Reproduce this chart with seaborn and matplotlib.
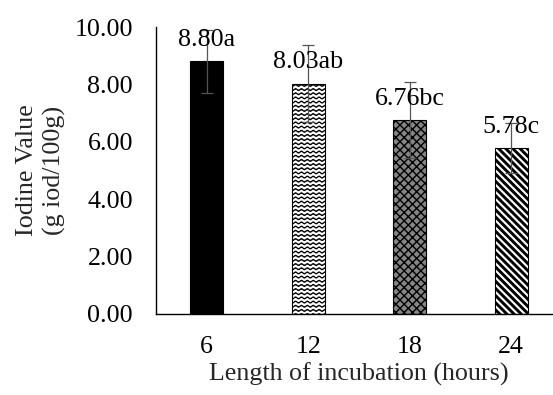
import warnings

import numpy as np
import pandas as pd
import matplotlib
matplotlib.use("Agg")
import matplotlib.pyplot as plt
import matplotlib.hatch as mhatch
from matplotlib.path import Path
import seaborn as sns

# Iodine value of the oil after each incubation period
hours = ["6", "12", "18", "24"]
iodine_value = [8.80, 8.03, 6.76, 5.78]
iodine_err = [1.09, 1.35, 1.33, 0.88]
letters = ["a", "ab", "bc", "c"]
y_ticks = [0, 2, 4, 6, 8, 10]

FS = 18.7


class WaveHatch(mhatch.HatchPatternBase):
    """Rows of small waves, drawn for the '~' hatch character."""

    def __init__(self, hatch, density):
        self.num_rows = hatch.count("~") * 24
        self.num_waves = 17
        self.pts = self.num_waves * 8 + 1
        self.num_vertices = self.num_rows * self.pts

    def set_vertices_and_codes(self, vertices, codes):
        t = np.linspace(0.0, 1.0, self.pts)
        for i in range(self.num_rows):
            y0 = (i + 0.5) / self.num_rows
            seg = slice(i * self.pts, (i + 1) * self.pts)
            vertices[seg, 0] = t
            vertices[seg, 1] = y0 + 0.009 * np.sin(2 * np.pi * self.num_waves * t)
            codes[seg] = Path.LINETO
            codes[i * self.pts] = Path.MOVETO


class DenseBackslashHatch(mhatch.HatchPatternBase):
    """Down-sloping stripes, 14 per inch, for the 'z' hatch character."""

    def __init__(self, hatch, density):
        self.num_lines = hatch.count("z") * 14
        self.num_vertices = (self.num_lines * 2 + 2) * 2 if self.num_lines else 0

    def set_vertices_and_codes(self, vertices, codes):
        n = self.num_lines * 2 + 2
        steps = np.arange(n) / self.num_lines - 1.0
        vertices[0::2, 0] = steps
        vertices[0::2, 1] = 1.0
        vertices[1::2, 0] = steps + 1.0
        vertices[1::2, 1] = 0.0
        codes[0::2] = Path.MOVETO
        codes[1::2] = Path.LINETO


mhatch._hatch_types.append(WaveHatch)
mhatch._hatch_types.append(DenseBackslashHatch)

sns.set_style("white")
plt.rcParams["font.family"] = ["Liberation Serif", "DejaVu Serif"]
plt.rcParams["font.size"] = FS

df = pd.DataFrame({"hours": hours, "iv": iodine_value})

fig = plt.figure(figsize=(5.53, 3.95), dpi=100)
ax = fig.add_axes([156 / 553, 81 / 395, 406 / 553, 287 / 395])

sns.barplot(data=df, x="hours", y="iv", order=hours, color="black",
            width=0.33, errorbar=None, saturation=1, ax=ax)

styles = [
    dict(face="black", hatch=None, hlw=1.0),
    dict(face="white", hatch="~", hlw=0.9),
    dict(face="#858585", hatch="xxxx", hlw=1.0),
    dict(face="white", hatch="z", hlw=2.1),
]
bars = list(ax.patches)
with warnings.catch_warnings():
    warnings.simplefilter("ignore")
    for bar, st in zip(bars, styles):
        bar.set_facecolor(st["face"])
        bar.set_edgecolor("black")
        bar.set_linewidth(0.8)
        bar.set_hatch(st["hatch"])
        if hasattr(bar, "set_hatch_linewidth"):
            bar.set_hatch_linewidth(st["hlw"])

centers = [b.get_x() + b.get_width() / 2 for b in bars]
ax.errorbar(centers, iodine_value, yerr=iodine_err, fmt="none",
            ecolor="#555555", elinewidth=0.9, capsize=4, capthick=0.9, zorder=4)

for x, v, lt in zip(centers, iodine_value, letters):
    ax.annotate(f"{v:.2f}{lt}", xy=(x, v), xytext=(0, 11.0),
                textcoords="offset points", ha="center", va="baseline",
                fontsize=FS, color="black", zorder=5)

ax.set_xlim(-0.5, 3.5)
ax.set_ylim(0, 10)
ax.set_yticks(y_ticks)
ax.set_yticklabels([f"{t:.2f}" for t in y_ticks])
ax.tick_params(axis="both", length=0, labelsize=FS, colors="black")
ax.tick_params(axis="y", pad=16.5)
ax.tick_params(axis="x", pad=16)

for side in ["top", "right"]:
    ax.spines[side].set_visible(False)
for side in ["left", "bottom"]:
    ax.spines[side].set_color("black")
    ax.spines[side].set_linewidth(1.0)

ax.set_xlabel("Length of incubation (hours)", fontsize=FS)
ax.set_ylabel("Iodine Value\n(g iod/100g)", fontsize=FS, linespacing=1.28)
ax.xaxis.label.set_va("baseline")
ax.xaxis.set_label_coords(0.5, (314 - 381) / 287)
ax.yaxis.label.set_va("center")
ax.yaxis.set_label_coords((41 - 156) / 406, 0.5)

fig.savefig("out.png", dpi=100)
